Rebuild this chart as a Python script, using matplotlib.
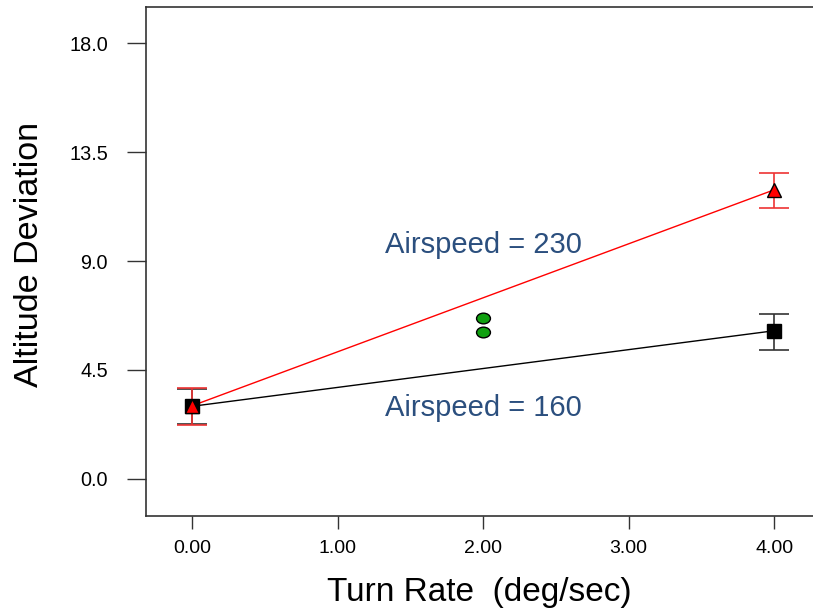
import matplotlib
matplotlib.use("Agg")
import matplotlib.pyplot as plt
from matplotlib.path import Path
from matplotlib.transforms import Affine2D

plt.rcParams['font.family'] = ['Liberation Sans', 'DejaVu Sans']

# Turn rate levels and mean altitude deviation per airspeed
turn_rate = [0.0, 4.0]
dev_230 = [3.02, 11.94]
err_230_lo = [2.23, 11.20]
err_230_hi = [3.76, 12.64]
dev_160 = [3.00, 6.12]
err_160_lo = [2.26, 5.33]
err_160_hi = [3.70, 6.82]

# Center points
center_x = [2.0, 2.0]
center_y = [6.65, 6.07]

x_ticks = [0.0, 1.0, 2.0, 3.0, 4.0]
x_labels = ["0.00", "1.00", "2.00", "3.00", "4.00"]
y_ticks = [0.0, 4.5, 9.0, 13.5, 18.0]
y_labels = ["0.0", "4.5", "9.0", "13.5", "18.0"]

fig = plt.figure(figsize=(8.13, 6.14), dpi=100)
ax = fig.add_axes([146 / 813, 1 - 516 / 614, (813 - 146) / 813, (516 - 7) / 614])

ax.set_xlim(-0.316, 4.267)
ax.set_ylim(-1.53, 19.49)

# Fitted lines
ax.plot(turn_rate, dev_160, color='black', lw=1.0, zorder=2)
ax.plot(turn_rate, dev_230, color='red', lw=1.0, zorder=2)

# Error bars
yerr_160 = [[m - lo for m, lo in zip(dev_160, err_160_lo)],
            [hi - m for m, hi in zip(dev_160, err_160_hi)]]
yerr_230 = [[m - lo for m, lo in zip(dev_230, err_230_lo)],
            [hi - m for m, hi in zip(dev_230, err_230_hi)]]
ax.errorbar(turn_rate, dev_160, yerr=yerr_160, fmt='none', ecolor='#333333',
            elinewidth=1.2, capsize=11, capthick=1.2, zorder=3)
ax.errorbar(turn_rate, dev_230, yerr=yerr_230, fmt='none', ecolor='#ee3333',
            elinewidth=1.2, capsize=11, capthick=1.2, zorder=3)

# Markers
ax.plot(turn_rate, dev_160, linestyle='none', marker='s', markersize=9.5,
        markerfacecolor='black', markeredgecolor='black', zorder=4)
ax.plot(turn_rate, dev_230, linestyle='none', marker='^', markersize=10,
        markerfacecolor='red', markeredgecolor='black', markeredgewidth=1.0, zorder=5)

ellipse = Path.unit_circle().transformed(Affine2D().scale(1.3, 1.0))
ax.plot(center_x, center_y, linestyle='none', marker=ellipse, markersize=10,
        markerfacecolor='#10a010', markeredgecolor='black', markeredgewidth=1.0, zorder=4)

# Annotations
ax.text(2.0, 9.68, "Airspeed = 230", color='#2b4f7e', fontsize=21,
        ha='center', va='center')
ax.text(2.0, 2.95, "Airspeed = 160", color='#2b4f7e', fontsize=21,
        ha='center', va='center')

ax.set_xticks(x_ticks)
ax.set_xticklabels(x_labels)
ax.set_yticks(y_ticks)
ax.set_yticklabels(y_labels)
ax.tick_params(axis='x', direction='out', length=9.5, width=1.0, labelsize=14,
               pad=8, color='#333333')
ax.tick_params(axis='y', direction='out', length=13.5, width=1.0, labelsize=14.3,
               pad=14, color='#333333')

ax.set_xlabel("Turn Rate  (deg/sec)", fontsize=24, labelpad=14)
ax.set_ylabel("Altitude Deviation", fontsize=24.6, labelpad=17.5)
ax.yaxis.label.set_y(0.513)

for side in ['left', 'bottom', 'top']:
    ax.spines[side].set_color('#333333')
    ax.spines[side].set_linewidth(1.2)
ax.spines['right'].set_visible(False)

fig.savefig("out.png", dpi=100)
